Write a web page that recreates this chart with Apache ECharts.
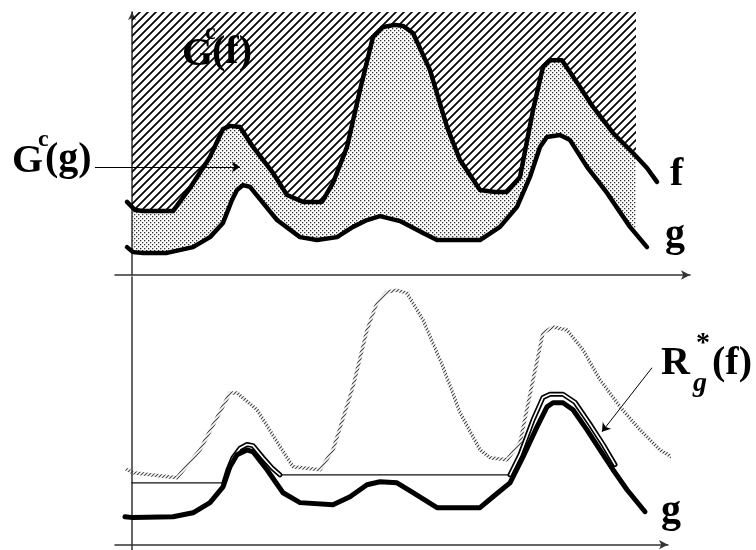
<!DOCTYPE html>
<html><head><meta charset="utf-8">
<script src="https://cdn.jsdelivr.net/npm/echarts@6/dist/echarts.min.js"></script>
<style>html,body{margin:0;padding:0;background:#fff}#c{width:756px;height:550px}</style>
</head><body><div id="c"></div><script>
// ---- data (x: abscissa units, y: level units 0..100) ----
const fTop = [[-1,27.8],[0.6,24.7],[2.2,24.3],[8.2,24.3],[11.6,33.1],[15.6,44.9],[18.2,55.5],[19.6,56.7],[21.6,56.3],[24.2,48.7],[28.2,38.8],[31,30.4],[34.2,27.8],[38,27.8],[40.2,35.0],[43,48.7],[45.6,70.3],[48.2,90.5],[50.2,94.3],[52.6,95.1],[54.2,94.7],[56.2,92.0],[59.6,77.9],[63,56.3],[65.6,43.7],[69.6,32.3],[72.6,31.6],[75,31.6],[77.6,37.3],[80.2,62.7],[82.2,79.1],[83.6,81.7],[86,81.7],[89.6,71.5],[92.2,63.9],[96.2,54.0],[100.2,46.4],[103,40.7],[105,35.4]];
const gTop = [[-1,10.6],[0.2,8.7],[2.2,8.4],[7,8.4],[12.2,10.6],[15.6,14.4],[18.2,19.8],[20,28.5],[21,32.3],[22.2,34.2],[23.6,33.5],[26.2,27.4],[29,20.9],[33.6,14.4],[37,13.3],[41,14.4],[44.2,18.3],[47,20.9],[49.6,22.4],[53.6,20.5],[58.2,16.0],[61,13.3],[69.6,13.3],[73.6,18.3],[77,25.9],[79.6,37.3],[81.6,48.7],[83,52.5],[85.6,53.2],[87.6,51.3],[91,41.1],[95,31.2],[99.6,18.3],[103,10.6]];
const fBottom = [[-1,28.0],[0.2,26.9],[9,25.0],[13.6,35.4],[19.6,56.7],[21,56.7],[25,50.4],[29.6,36.6],[32.2,29.1],[37.6,28.0],[40.2,35.4],[44.2,59.0],[47,80.2],[49,90.3],[51,94.4],[53,95.1],[55,94.0],[58.2,84.0],[62.2,66.4],[65.6,49.3],[69.6,35.4],[71.6,32.5],[75,31.7],[77.6,38.1],[80.2,61.6],[82.2,79.1],[84.2,81.3],[87,80.2],[90.2,72.8],[93.6,61.6],[97.6,51.5],[101.6,42.9],[105.6,35.4],[109.6,31.0]];
const gBottom = [[-1.4,10.4],[0.2,10.1],[8.2,10.4],[12.2,11.9],[15.6,15.7],[18.2,21.6],[19.6,29.1],[21,33.6],[23,35.4],[24.2,34.7],[27,28.0],[30.2,19.4],[33.6,15.7],[40.2,14.9],[43.6,17.9],[47,22.4],[49.6,23.5],[53,23.1],[56.2,19.4],[61,13.8],[69.6,13.8],[72.2,17.9],[75.6,23.1],[78.2,32.8],[81,44.0],[83,51.5],[84.2,53.0],[86.2,53.0],[88.2,50.4],[91,42.9],[93.6,35.4],[96.2,28.0],[99,20.5],[102.6,12.3]];
const rLevel1 = 23.1;
const rPeak1 = [[18.4,23.1],[19.2,28.0],[20.2,32.5],[21.6,36.0],[23,37.4],[24.2,37.0],[26.2,32.5],[28,28.7],[29.6,26.1]];
const rPeak2 = [[75.6,26.1],[77.6,33.6],[80.2,46.6],[82.2,55.0],[83.6,56.2],[86.2,56.2],[88.6,53.2],[91.6,45.0],[94.2,37.5],[96.6,29.9]];
const shadeEndX = 100.8;   // right edge of the shaded regions
const shadeTop = 100;      // top edge of G^c(f)
const arrowG = [[-7.4,41.1],[21.6,41.1]];
const arrowR = [[104,66.1],[94,42.2]];

// ---- patterns ----
function makeHatch(size, lw, color){
  const c=document.createElement('canvas'); c.width=size; c.height=size;
  const x=c.getContext('2d'); x.strokeStyle=color; x.lineWidth=lw; x.lineCap='square';
  x.beginPath();
  x.moveTo(-1,size+1); x.lineTo(size+1,-1);
  x.moveTo(-1,1); x.lineTo(1,-1);
  x.moveTo(size-1,size+1); x.lineTo(size+1,size-1);
  x.stroke(); return c;
}
function makeDots(){
  const c=document.createElement('canvas'); c.width=4; c.height=4;
  const x=c.getContext('2d'); x.fillStyle='#333';
  x.fillRect(0,0,1.3,1.3); x.fillRect(2,2,1.3,1.3); return c;
}
const hatchPat = {image: makeHatch(8,1.7,'#000'), repeat:'repeat'};
const dotPat = {image: makeDots(), repeat:'repeat'};
const strokePat = {image: makeHatch(4,1.1,'#444'), repeat:'repeat'};

function interp(curve,x){
  for(let i=1;i<curve.length;i++){
    const a=curve[i-1], b=curve[i];
    if(x>=a[0] && x<=b[0]) return a[1]+(b[1]-a[1])*(x-a[0])/(b[0]-a[0]);
  }
  return curve[curve.length-1][1];
}
function clipCurve(curve,x0,x1){
  const pts=[[x0,interp(curve,x0)]];
  curve.forEach(p=>{ if(p[0]>x0 && p[0]<x1) pts.push(p); });
  pts.push([x1,interp(curve,x1)]);
  return pts;
}
const fClip = clipCurve(fTop,0,shadeEndX);
const gClip = clipCurve(gTop,0,shadeEndX);
const hatchPoly = [[0,shadeTop],[shadeEndX,shadeTop]].concat(fClip.slice().reverse());
const dotPoly = fClip.concat(gClip.slice().reverse());

function polySeries(poly, fill){
  return {type:'custom', xAxisIndex:0, yAxisIndex:0, silent:true, clip:false, data:[[0,0]],
    renderItem:(p,api)=>({type:'polygon', shape:{points: poly.map(q=>api.coord(q))}, style:{fill:fill, stroke:null}})};
}
function lineSeries(data, axis, width, color, extra){
  return Object.assign({type:'line', xAxisIndex:axis, yAxisIndex:axis, data:data, showSymbol:false, symbol:'none',
    clip:false, silent:true, lineStyle:{width:width, color:color, cap:'round', join:'round'}}, extra||{});
}
const axLine = {lineStyle:{color:'#333', width:1.5}};
const serif = '"Liberation Serif","DejaVu Serif",serif';
function txt(x,y,text,font){
  return {type:'text', x:x, y:y, silent:true, style:{text:text, font:font+' '+serif, fill:'#000', align:'left', verticalAlign:'middle'}};
}

const chart = echarts.init(document.getElementById('c'), null, {renderer:'canvas'});
chart.setOption({
  animation:false,
  backgroundColor:'#fff',
  grid:[
    {left:115, right:66, top:12, bottom:275},
    {left:115, right:88, top:277, bottom:0}
  ],
  xAxis:[
    {type:'value', gridIndex:0, min:-3.4, max:111.6, axisLine:Object.assign({symbol:['none','arrow'], symbolSize:[7,9]},axLine), axisTick:{show:false}, axisLabel:{show:false}, splitLine:{show:false}},
    {type:'value', gridIndex:1, min:-3.4, max:107.2, axisLine:Object.assign({onZero:true, symbol:['none','arrow'], symbolSize:[7,9]},axLine), axisTick:{show:false}, axisLabel:{show:false}, splitLine:{show:false}}
  ],
  yAxis:[
    {type:'value', gridIndex:0, min:0, max:100, axisLine:Object.assign({show:true, onZero:true, symbol:['none','arrow'], symbolSize:[6,8]},axLine), axisTick:{show:false}, axisLabel:{show:false}, splitLine:{show:false}},
    {type:'value', gridIndex:1, min:-2, max:100, axisLine:Object.assign({show:true, onZero:true},axLine), axisTick:{show:false}, axisLabel:{show:false}, splitLine:{show:false}}
  ],
  series:[
    polySeries(hatchPoly, hatchPat),
    polySeries(dotPoly, dotPat),
    lineSeries(fTop,0,4.5,'#000'),
    lineSeries(gTop,0,4.5,'#000'),
    {type:'lines', coordinateSystem:'cartesian2d', xAxisIndex:0, yAxisIndex:0, clip:false, silent:true,
      symbol:['none','arrow'], symbolSize:8, lineStyle:{color:'#000', width:1, opacity:1}, data:[{coords:arrowG}]},
    lineSeries(fBottom,1,3.5,strokePat),
    lineSeries([[0,rLevel1]].concat(rPeak1, rPeak2),1,1.2,'#111'),
    lineSeries(rPeak1,1,5,'#000'),
    lineSeries(rPeak1,1,1.6,'#fff'),
    lineSeries(rPeak2,1,5,'#000'),
    lineSeries(rPeak2,1,1.6,'#fff'),
    lineSeries(gBottom,1,5,'#000'),
    {type:'lines', coordinateSystem:'cartesian2d', xAxisIndex:1, yAxisIndex:1, clip:false, silent:true,
      symbol:['none','arrow'], symbolSize:8, lineStyle:{color:'#000', width:1, opacity:1}, data:[{coords:arrowR}]}
  ],
  graphic:[
    txt(182,55,'G','bold 40px'), txt(205,33,'c','bold 24px'), txt(212,53,'(f)','bold 40px'),
    txt(12,162,'G','bold 40px'), txt(38,140,'c','bold 24px'), txt(45,160,'(g)','bold 40px'),
    txt(670,175,'f','bold 40px'),
    txt(665,236,'g','bold 40px'),
    txt(661,512,'g','bold 40px'),
    txt(661,364,'R','bold 40px'), txt(696,344,'*','bold 28px'), txt(693,384,'g','bold italic 28px'), txt(712,364,'(f)','bold 40px')
  ]
});
</script></body></html>
